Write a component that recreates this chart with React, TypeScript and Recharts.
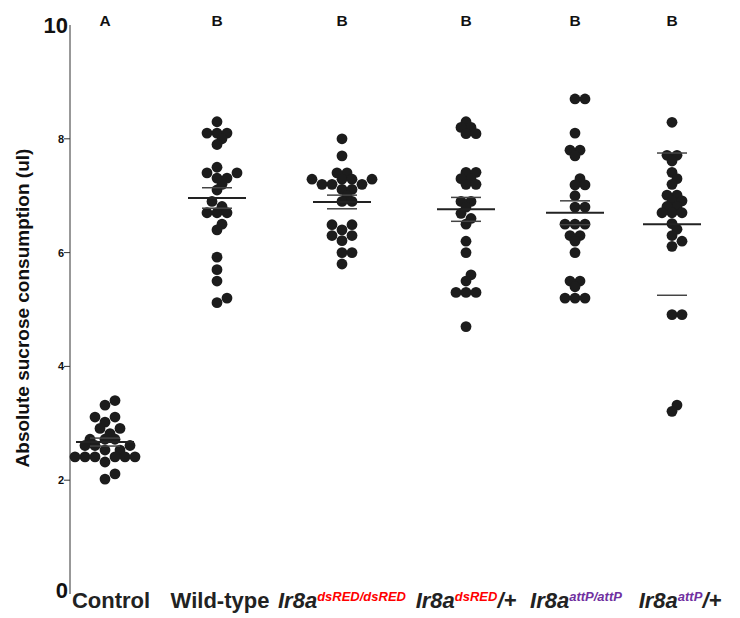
import { ScatterChart, Scatter, XAxis, YAxis } from "recharts";

// one value per fly (ul)
const control = [3.4, 3.32, 3.11, 3.11, 3.02, 2.91, 2.91, 2.82, 2.72, 2.72, 2.72, 2.61, 2.61, 2.61, 2.53, 2.53, 2.41, 2.41, 2.41, 2.41, 2.41, 2.41, 2.32, 2.11, 2.02];
const wildType = [8.3, 8.1, 8.1, 8.1, 8.0, 7.9, 7.5, 7.4, 7.4, 7.31, 7.31, 7.2, 7.1, 6.9, 6.81, 6.7, 6.7, 6.7, 6.5, 6.4, 5.92, 5.7, 5.5, 5.2, 5.12];
const dsRedHomo = [8.0, 7.7, 7.4, 7.4, 7.29, 7.29, 7.29, 7.29, 7.2, 7.2, 7.2, 7.11, 7.11, 7.0, 6.9, 6.9, 6.49, 6.49, 6.4, 6.3, 6.3, 6.21, 6.0, 6.0, 5.8];
const dsRedHet = [8.3, 8.2, 8.2, 8.09, 8.09, 7.41, 7.41, 7.3, 7.3, 7.2, 7.2, 6.9, 6.9, 6.8, 6.69, 6.6, 6.5, 6.2, 6.0, 5.61, 5.5, 5.3, 5.3, 5.3, 4.7];
const attPHomo = [8.7, 8.7, 8.1, 7.8, 7.8, 7.7, 7.3, 7.19, 7.19, 7.0, 6.8, 6.8, 6.5, 6.5, 6.5, 6.3, 6.3, 6.2, 6.0, 5.5, 5.5, 5.4, 5.2, 5.2, 5.2];
const attPHet = [8.29, 7.71, 7.71, 7.61, 7.41, 7.3, 7.2, 7.01, 7.01, 6.91, 6.91, 6.81, 6.81, 6.7, 6.7, 6.7, 6.51, 6.41, 6.3, 6.2, 6.11, 4.91, 4.91, 3.32, 3.21];

const groupValues = [control, wildType, dsRedHomo, dsRedHet, attPHomo, attPHet];
const means = [2.67, 6.96, 6.89, 6.76, 6.7, 6.5];
const errors = [0.07, 0.18, 0.12, 0.21, 0.21, 1.25];
const sigLetters = ["A", "B", "B", "B", "B", "B"];

const labelBase = ["Control", "Wild-type", "Ir8a", "Ir8a", "Ir8a", "Ir8a"];
const labelSup = ["", "", "dsRED/dsRED", "dsRED", "attP/attP", "attP"];
const labelSuffix = ["", "", "", "/+", "", "/+"];
const yTicks = [0, 2, 4, 6, 8, 10];

// layout
const groupPos = [0.35, 1.47, 2.72, 3.96, 5.05, 6.02];
const labelShift = [6, 3, 0, 0, 1, 8];
const supColor = ["", "", "#ff0000", "#ff0000", "#7030a0", "#7030a0"];
const FONT = "'Liberation Sans', Arial, sans-serif";
const PX_PER_UNIT = 56.9;
const STEP = 5;
const MIN_DIST = 7.5;

// greedy beeswarm, bottom-up, offsets in px
function swarm(values: number[]): number[] {
  const order = values.map((v, i) => i).sort((a, b) => values[a] - values[b]);
  const placed: { dx: number; y: number }[] = [];
  const offs = new Array(values.length).fill(0);
  order.forEach((idx) => {
    const y = values[idx] * PX_PER_UNIT;
    for (let k = 0; k < 40; k++) {
      const cands = k === 0 ? [0] : [k * STEP, -k * STEP];
      const hit = cands.find((dx) => placed.every((p) => Math.hypot(p.dx - dx, p.y - y) >= MIN_DIST));
      if (hit !== undefined) {
        placed.push({ dx: hit, y });
        offs[idx] = hit;
        return;
      }
    }
  });
  return offs;
}

const dots = groupValues.flatMap((vals, i) => {
  const offs = swarm(vals);
  return vals.map((v, j) => ({ x: groupPos[i], y: v, dx: offs[j] }));
});
const meanData = means.map((m, i) => ({ x: groupPos[i], y: m }));
const errData = means.flatMap((m, i) => [
  { x: groupPos[i], y: m + errors[i] },
  { x: groupPos[i], y: m - errors[i] },
]);
const sigData = sigLetters.map((s, i) => ({ x: groupPos[i], y: 10, label: s }));

const Dot = (props: any) => (
  <circle cx={props.cx + props.payload.dx} cy={props.cy} r={5.4} fill="#1c1c1c" />
);

const bar = (half: number, width: number, color: string) => (props: any) => (
  <line x1={props.cx - half} x2={props.cx + half} y1={props.cy} y2={props.cy} stroke={color} strokeWidth={width} />
);

const SigText = (props: any) => (
  <text x={props.cx} y={props.cy + 1} textAnchor="middle" fontFamily={FONT} fontWeight="bold" fontSize={15.5} fill="#111">
    {props.payload.label}
  </text>
);

const XTick = (props: any) => {
  const i = props.index;
  const italic = labelSup[i] !== "";
  return (
    <text x={props.x + labelShift[i]} y={props.y + 14} textAnchor="middle" fontFamily={FONT} fontWeight="bold" fontSize={22} fill="#222" fontStyle={italic ? "italic" : "normal"}>
      <tspan>{labelBase[i]}</tspan>
      {italic && (
        <tspan dy={-7} fontSize={13} fill={supColor[i]}>
          {labelSup[i]}
        </tspan>
      )}
      {labelSuffix[i] && <tspan dy={7}>{labelSuffix[i]}</tspan>}
    </text>
  );
};

const YTick = (props: any) => {
  const v = props.payload.value;
  const { x, y } = props;
  if (v === 0 || v === 10) {
    return (
      <text x={x - 2} y={y + (v === 0 ? 4 : 8)} textAnchor="end" fontFamily={FONT} fontWeight="bold" fontSize={22} fill="#111">
        {v}
      </text>
    );
  }
  return (
    <g>
      <line x1={x - 6} x2={x} y1={y} y2={y} stroke="#333" strokeWidth={1} />
      <text x={x - 6} y={y + 4} textAnchor="end" fontFamily={FONT} fontWeight="bold" fontSize={11} fill="#111">
        {v}
      </text>
    </g>
  );
};

const YTitle = () => (
  <text transform="translate(29, 308) rotate(-90)" textAnchor="middle" fontFamily={FONT} fontWeight="bold" fontSize={19} fill="#111">
    Absolute sucrose consumption (ul)
  </text>
);

export default function App() {
  return (
    <div style={{ position: "absolute", left: 0, top: 0, background: "#fff" }}>
      <ScatterChart width={740} height={618} margin={{ top: 25, right: 10, left: 0, bottom: 0 }}>
        <XAxis
          type="number"
          dataKey="x"
          domain={[0, 6.6]}
          ticks={groupPos}
          interval={0}
          height={24}
          axisLine={false}
          tickLine={false}
          tickSize={0}
          tickMargin={0}
          tick={<XTick />}
        />
        <YAxis
          type="number"
          dataKey="y"
          domain={[0, 10]}
          ticks={yTicks}
          interval={0}
          width={70}
          axisLine={{ stroke: "#333", strokeWidth: 1 }}
          tickLine={false}
          tickSize={0}
          tickMargin={0}
          tick={<YTick />}
          label={{ content: () => <YTitle /> }}
        />
        <Scatter data={dots} shape={<Dot />} isAnimationActive={false} />
        <Scatter data={meanData} shape={bar(29, 2, "#222")} isAnimationActive={false} />
        <Scatter data={errData} shape={bar(15, 1.5, "#444")} isAnimationActive={false} />
        <Scatter data={sigData} shape={<SigText />} isAnimationActive={false} />
      </ScatterChart>
    </div>
  );
}
